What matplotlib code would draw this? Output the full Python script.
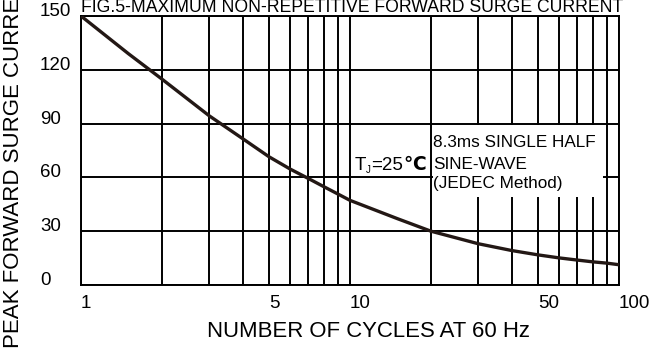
import numpy as np
import matplotlib
matplotlib.use("Agg")
import matplotlib.pyplot as plt
from matplotlib.ticker import LogLocator, FixedLocator, NullFormatter
from matplotlib.patches import Rectangle

plt.rcParams["font.family"] = ["Liberation Sans", "DejaVu Sans"]

# curve
cycles = [1, 1.5, 2, 3, 4, 5, 6, 7, 8, 9, 10, 15, 20, 30, 40, 50, 60, 70, 80, 90, 100]
surge_current = [150, 129, 114.8, 94.3, 81.5, 71.5, 64.6, 59.4, 54.8, 50.8, 47.2,
                 37, 30, 23.0, 19.2, 16.8, 15.1, 13.9, 12.9, 12.2, 11.3]

x_ticks = [1, 5, 10, 50, 100]
x_ticklabels = ["1", "5", "10", "50", "100"]
y_ticks = [0, 30, 60, 90, 120, 150]

title = "FIG.5-MAXIMUM NON-REPETITIVE FORWARD SURGE CURRENT"
xlabel = "NUMBER OF CYCLES AT 60 Hz"
ylabel = "PEAK FORWARD SURGE CURRENT (A)"
note_lines = ["8.3ms SINGLE HALF", "SINE-WAVE", "(JEDEC Method)"]

W, H = 650, 352
fig = plt.figure(figsize=(W / 100, H / 100), dpi=100)
ax = fig.add_axes([81 / W, (H - 285) / H, 538 / W, 269 / H])

ax.plot(cycles, surge_current, color="#231815", lw=2.4, zorder=3,
        solid_capstyle="butt", solid_joinstyle="round")

ax.set_xscale("log")
ax.set_xlim(1, 100)
ax.set_ylim(0, 150)
ax.xaxis.set_major_locator(FixedLocator(x_ticks))
ax.set_xticklabels(x_ticklabels)
ax.xaxis.set_minor_locator(LogLocator(base=10, subs=np.arange(2, 10)))
ax.xaxis.set_minor_formatter(NullFormatter())
ax.set_yticks(y_ticks)

ax.grid(True, which="both", color="black", lw=1.4)
for s in ax.spines.values():
    s.set_linewidth(1.4)
    s.set_color("black")

ax.tick_params(axis="both", which="both", length=0)
ax.tick_params(axis="x", pad=7, labelsize=13.5)
ax.tick_params(axis="y", pad=29.5, labelsize=13.5)
for lbl in ax.get_yticklabels():
    lbl.set_ha("left")
    lbl.set_va("baseline")
for lbl in ax.get_xticklabels():
    lbl.set_ha("left")

# white box behind the test condition note
ax.add_patch(Rectangle((0.6535, 0.327), 0.316, 0.267, transform=ax.transAxes,
                       facecolor="white", edgecolor="none", zorder=2))
for txt, yy in zip(note_lines, [0.513, 0.431, 0.359]):
    ax.text(0.655, yy, txt, transform=ax.transAxes, fontsize=12.3,
            va="baseline", ha="left", zorder=4)

# T_J = 25 C
ax.text(0.509, 0.4275, "T", transform=ax.transAxes, fontsize=13.5,
        va="baseline", ha="left")
ax.text(0.529, 0.418, "J", transform=ax.transAxes, fontsize=7,
        va="baseline", ha="left")
ax.text(0.540, 0.4275, "=25", transform=ax.transAxes, fontsize=13.5,
        va="baseline", ha="left")
ax.text(0.599, 0.4275, "\u2103", transform=ax.transAxes, fontsize=13.5,
        fontweight="bold", va="baseline", ha="left")

fig.text(81 / W, 1 - 12.5 / H, title, fontsize=12.7, ha="left", va="baseline")
fig.text(368.5 / W, 1 - 337 / H, xlabel, fontsize=15.9, ha="center", va="baseline")
fig.text(19.3 / W, 1 - 348 / H, ylabel, fontsize=16, rotation=90,
         rotation_mode="anchor", ha="left", va="baseline")

fig.savefig("out.png", dpi=100)
